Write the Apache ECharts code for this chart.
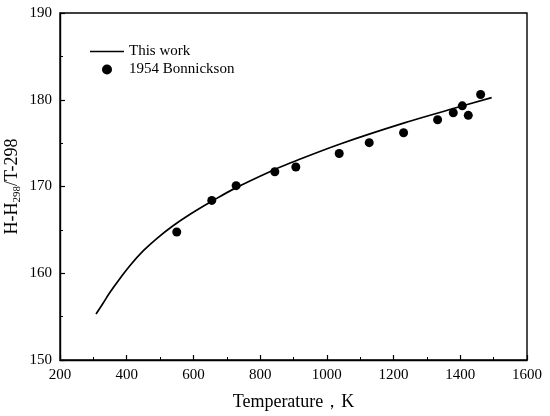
<!DOCTYPE html>
<html>
<head>
<meta charset="utf-8">
<script src="https://cdn.jsdelivr.net/npm/echarts@6/dist/echarts.min.js"></script>
<style>
  html, body { margin: 0; padding: 0; background: #fff; }
  #chart-container { width: 550px; height: 416px; }
</style>
</head>
<body>
<div id="chart-container"></div>
<script>
// model curve ("This work")
const workT = [308, 330, 350, 380, 410, 450, 490, 540, 590, 655, 730, 840, 890, 1040, 1230, 1390, 1494];
const workH = [155.3, 156.6, 157.8, 159.4, 160.9, 162.6, 164.0, 165.5, 166.8, 168.3, 169.9, 171.9, 172.7, 174.9, 177.3, 179.1, 180.25];

// 1954 Bonnickson measurements
const expT = [550, 655, 728, 844, 907, 1037, 1127, 1230, 1332, 1379, 1406, 1424, 1461];
const expH = [164.75, 168.4, 170.1, 171.7, 172.25, 173.8, 175.05, 176.2, 177.7, 178.5, 179.3, 178.2, 180.6];

const xTicks = { min: 200, max: 1600, step: 200 };
const yTicks = { min: 150, max: 190, step: 10 };

const serif = "Liberation Serif, Times New Roman, serif";

const chartContainer = document.getElementById("chart-container");
const myChart = echarts.init(chartContainer);

const axisCommon = {
  axisLine: { show: true, lineStyle: { color: "#000", width: 1.4 } },
  axisTick: { show: true, inside: true, length: 5, lineStyle: { color: "#000", width: 1.2 } },
  minorTick: { show: true, splitNumber: 2, length: 3, lineStyle: { color: "#000", width: 1 } },
  splitLine: { show: false },
  axisLabel: { color: "#000", fontFamily: serif, fontSize: 15, margin: 8, formatter: (v) => String(v) },
};

const option = {
  animation: false,
  grid: {
    left: 60,
    right: 23,
    top: 13,
    bottom: 56,
    outerBoundsMode: "none",
    containLabel: false,
    show: true,
    borderColor: "#000",
    borderWidth: 1.4,
  },
  legend: {
    orient: "vertical",
    left: 85,
    top: 39,
    itemWidth: 34,
    itemHeight: 10,
    itemGap: 3,
    textStyle: { fontFamily: serif, fontSize: 15, color: "#000" },
    data: [
      { name: "This work", icon: "path://M0,0 H34 V1.7 H0 Z", itemStyle: { color: "#000" } },
      { name: "1954 Bonnickson", icon: "circle", itemStyle: { color: "#000", opacity: 1 } },
    ],
  },
  xAxis: {
    type: "value",
    min: xTicks.min,
    max: xTicks.max,
    interval: xTicks.step,
    name: "Temperature，K",
    nameLocation: "middle",
    nameGap: 33,
    nameMoveOverlap: false,
    nameTextStyle: { fontFamily: serif, fontSize: 18, color: "#000" },
    ...axisCommon,
  },
  yAxis: {
    type: "value",
    min: yTicks.min,
    max: yTicks.max,
    interval: yTicks.step,
    name: "{a|H-H}{s|298}{a|/T-298}",
    nameLocation: "middle",
    nameGap: 37,
    nameMoveOverlap: false,
    nameTextStyle: {
      color: "#000",
      rich: {
        a: { fontFamily: serif, fontSize: 18, color: "#000", lineHeight: 22, verticalAlign: "middle" },
        s: { fontFamily: serif, fontSize: 11, color: "#000", lineHeight: 22, verticalAlign: "bottom", padding: [8, 0, 0, 0] },
      },
    },
    ...axisCommon,
  },
  series: [
    {
      name: "This work",
      type: "line",
      smooth: 0.4,
      symbol: "none",
      data: workT.map((t, i) => [t, workH[i]]),
      lineStyle: { color: "#000", width: 1.7 },
      itemStyle: { color: "#000" },
    },
    {
      name: "1954 Bonnickson",
      type: "scatter",
      symbol: "circle",
      symbolSize: 9,
      data: expT.map((t, i) => [t, expH[i]]),
      itemStyle: { color: "#000", opacity: 1 },
    },
  ],
};

myChart.setOption(option);
</script>
</body>
</html>
